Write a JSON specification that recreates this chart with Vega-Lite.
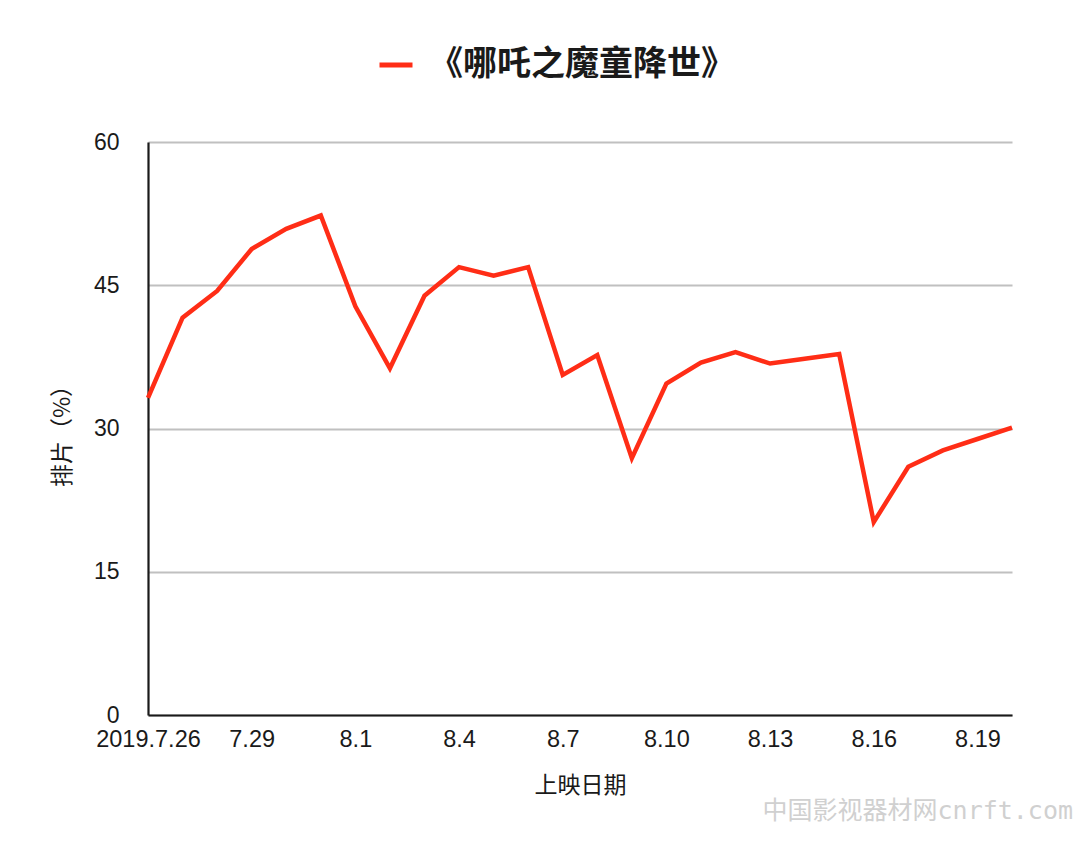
{
  "$schema": "https://vega.github.io/schema/vega-lite/v6.json",
  "autosize": {"type": "none"},
  "width": 864,
  "height": 573,
  "padding": {"left": 148, "top": 142, "right": 68, "bottom": 141},
  "background": "#ffffff",
  "title": {
    "text": "中国影视器材网cnrft.com",
    "orient": "bottom",
    "anchor": "end",
    "frame": "group",
    "dx": 61,
    "offset": 2,
    "font": "DejaVu Sans Mono, Noto Sans CJK SC",
    "fontSize": 25,
    "fontWeight": "normal",
    "color": "#d0d0d0"
  },
  "data": {
    "values": [
      {"date": "2019-07-26", "share": 33.2, "film": "《哪吒之魔童降世》"},
      {"date": "2019-07-27", "share": 41.6, "film": "《哪吒之魔童降世》"},
      {"date": "2019-07-28", "share": 44.4, "film": "《哪吒之魔童降世》"},
      {"date": "2019-07-29", "share": 48.8, "film": "《哪吒之魔童降世》"},
      {"date": "2019-07-30", "share": 50.9, "film": "《哪吒之魔童降世》"},
      {"date": "2019-07-31", "share": 52.3, "film": "《哪吒之魔童降世》"},
      {"date": "2019-08-01", "share": 42.8, "film": "《哪吒之魔童降世》"},
      {"date": "2019-08-02", "share": 36.3, "film": "《哪吒之魔童降世》"},
      {"date": "2019-08-03", "share": 43.9, "film": "《哪吒之魔童降世》"},
      {"date": "2019-08-04", "share": 46.9, "film": "《哪吒之魔童降世》"},
      {"date": "2019-08-05", "share": 46.0, "film": "《哪吒之魔童降世》"},
      {"date": "2019-08-06", "share": 46.9, "film": "《哪吒之魔童降世》"},
      {"date": "2019-08-07", "share": 35.6, "film": "《哪吒之魔童降世》"},
      {"date": "2019-08-08", "share": 37.7, "film": "《哪吒之魔童降世》"},
      {"date": "2019-08-09", "share": 26.9, "film": "《哪吒之魔童降世》"},
      {"date": "2019-08-10", "share": 34.7, "film": "《哪吒之魔童降世》"},
      {"date": "2019-08-11", "share": 36.9, "film": "《哪吒之魔童降世》"},
      {"date": "2019-08-12", "share": 38.0, "film": "《哪吒之魔童降世》"},
      {"date": "2019-08-13", "share": 36.8, "film": "《哪吒之魔童降世》"},
      {"date": "2019-08-14", "share": 37.3, "film": "《哪吒之魔童降世》"},
      {"date": "2019-08-15", "share": 37.8, "film": "《哪吒之魔童降世》"},
      {"date": "2019-08-16", "share": 20.2, "film": "《哪吒之魔童降世》"},
      {"date": "2019-08-17", "share": 26.0, "film": "《哪吒之魔童降世》"},
      {"date": "2019-08-18", "share": 27.7, "film": "《哪吒之魔童降世》"},
      {"date": "2019-08-19", "share": 28.9, "film": "《哪吒之魔童降世》"},
      {"date": "2019-08-20", "share": 30.1, "film": "《哪吒之魔童降世》"}
    ]
  },
  "mark": {"type": "line", "strokeWidth": 4.5, "strokeJoin": "miter", "clip": false},
  "encoding": {
    "x": {
      "field": "date",
      "type": "temporal",
      "scale": {
        "type": "utc",
        "nice": false,
        "domain": [
          {"year": 2019, "month": 7, "date": 26, "utc": true},
          {"year": 2019, "month": 8, "date": 20, "utc": true}
        ]
      },
      "axis": {
        "title": "上映日期",
        "values": [
          {"year": 2019, "month": 7, "date": 26, "utc": true},
          {"year": 2019, "month": 7, "date": 29, "utc": true},
          {"year": 2019, "month": 8, "date": 1, "utc": true},
          {"year": 2019, "month": 8, "date": 4, "utc": true},
          {"year": 2019, "month": 8, "date": 7, "utc": true},
          {"year": 2019, "month": 8, "date": 10, "utc": true},
          {"year": 2019, "month": 8, "date": 13, "utc": true},
          {"year": 2019, "month": 8, "date": 16, "utc": true},
          {"year": 2019, "month": 8, "date": 19, "utc": true}
        ],
        "labelExpr": "(utcmonth(datum.value) == 6 && utcdate(datum.value) == 26) ? '2019.7.26' : utcFormat(datum.value, '%-m.%-d')",
        "labelFont": "Liberation Sans",
        "labelFontSize": 23.5,
        "labelColor": "#1a1a1a",
        "labelPadding": 12,
        "labelOverlap": false,
        "labelFlush": false,
        "ticks": false,
        "grid": false,
        "domain": true,
        "domainColor": "#1a1a1a",
        "domainWidth": 2.2,
        "titleFont": "Noto Sans CJK SC",
        "titleFontSize": 23,
        "titleFontWeight": "normal",
        "titleColor": "#1a1a1a",
        "titleY": 70,
        "titleBaseline": "middle"
      }
    },
    "y": {
      "field": "share",
      "type": "quantitative",
      "scale": {"domain": [0, 60], "nice": false},
      "axis": {
        "title": "排片（%）",
        "values": [0, 15, 30, 45, 60],
        "labelFont": "Liberation Sans",
        "labelFontSize": 23,
        "labelColor": "#1a1a1a",
        "labelPadding": 29,
        "ticks": false,
        "grid": true,
        "gridColor": "#c0c0c0",
        "gridWidth": 1.8,
        "domain": true,
        "domainColor": "#1a1a1a",
        "domainWidth": 2.2,
        "titleFont": "Noto Sans CJK SC",
        "titleFontSize": 23,
        "titleFontWeight": "normal",
        "titleColor": "#1a1a1a",
        "titleAngle": -90,
        "titleX": -86,
        "titleY": 288,
        "titleBaseline": "middle",
        "titleAlign": "center"
      }
    },
    "color": {
      "field": "film",
      "type": "nominal",
      "scale": {"range": ["#ff2d16"]},
      "legend": {
        "title": null,
        "orient": "none",
        "legendX": 229,
        "legendY": -96,
        "symbolType": "stroke",
        "symbolSize": 1089,
        "symbolStrokeWidth": 5,
        "labelFont": "Noto Sans CJK SC",
        "labelFontSize": 34,
        "labelFontWeight": "bold",
        "labelColor": "#1a1a1a",
        "labelOffset": 14,
        "labelLimit": 0
      }
    }
  },
  "config": {
    "view": {"stroke": null},
    "axis": {"gridCap": "butt"}
  }
}
